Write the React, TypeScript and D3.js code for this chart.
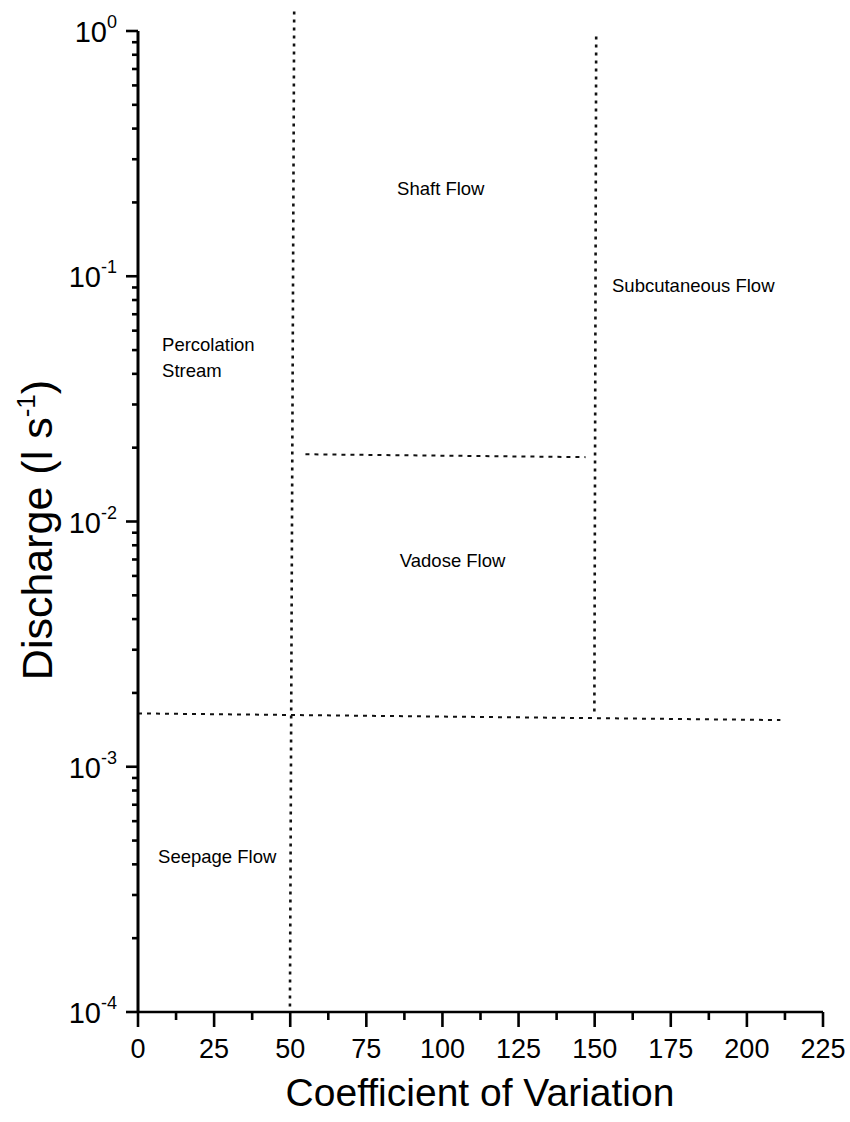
import React from "react";
import * as d3 from "d3";

const W = 850;
const H = 1122;

// Axis definitions
const xDomain = [0, 225];
const yDomain = [1e-4, 1];
const xMajorTicks = [0, 25, 50, 75, 100, 125, 150, 175, 200, 225];
const yDecades = [-4, -3, -2, -1, 0];

// Boundary lines (coefficient of variation, discharge l/s)
const verticalBoundaries = [
  { cvTop: 51.3, qTop: 1.2, cvBottom: 49.9, qBottom: 1e-4 },
  { cvTop: 150.5, qTop: 0.95, cvBottom: 149.9, qBottom: 1.63e-3 },
];
const horizontalBoundaries = [
  { cvStart: 0, qStart: 1.65e-3, cvEnd: 211, qEnd: 1.55e-3 },
  { cvStart: 55, qStart: 0.0188, cvEnd: 147, qEnd: 0.0183 },
];

// Region labels
const regionLabels = [
  { lines: ["Shaft Flow"], cv: 85.1, q: 0.214 },
  { lines: ["Subcutaneous Flow"], cv: 155.7, q: 0.0863 },
  { lines: ["Percolation", "Stream"], cv: 7.9, q: 0.0496 },
  { lines: ["Vadose Flow"], cv: 86, q: 0.00652 },
  { lines: ["Seepage Flow"], cv: 6.6, q: 4.05e-4 },
];

const FONT = "'Liberation Sans', Arial, Helvetica, sans-serif";

export default function App() {
  const x = d3.scaleLinear().domain(xDomain).range([138, 823]);
  const y = d3.scaleLog().domain(yDomain).range([1012, 31]);

  const xMinor = d3.range(0, xMajorTicks.length - 1).map((i) => xMajorTicks[i] + 12.5);
  const yMinor: number[] = [];
  yDecades.slice(0, -1).forEach((e) => {
    for (let k = 2; k <= 9; k++) yMinor.push(k * Math.pow(10, e));
  });

  const x0 = x(xDomain[0]);
  const yB = y(yDomain[0]);

  return (
    <svg
      width={W}
      height={H}
      style={{ position: "absolute", left: 0, top: 0, background: "#fff" }}
      fontFamily={FONT}
    >
      <rect width={W} height={H} fill="#fff" />
      {/* boundary lines */}
      {verticalBoundaries.map((d, i) => (
        <line
          key={"v" + i}
          x1={x(d.cvTop)}
          y1={y(d.qTop)}
          x2={x(d.cvBottom)}
          y2={y(d.qBottom)}
          stroke="#111"
          strokeWidth={2.6}
          strokeDasharray="3,5"
        />
      ))}
      {horizontalBoundaries.map((d, i) => (
        <line
          key={"h" + i}
          x1={x(d.cvStart)}
          y1={y(d.qStart)}
          x2={x(d.cvEnd)}
          y2={y(d.qEnd)}
          stroke="#111"
          strokeWidth={2}
          strokeDasharray="4,5"
        />
      ))}

      {/* axes */}
      <line x1={x0} y1={y(yDomain[1])} x2={x0} y2={yB} stroke="#000" strokeWidth={3} />
      <line x1={x0} y1={yB} x2={x(xDomain[1])} y2={yB} stroke="#000" strokeWidth={2.6} />

      {/* x ticks */}
      {xMajorTicks.map((t) => (
        <g key={"xt" + t}>
          <line x1={x(t)} x2={x(t)} y1={yB} y2={yB + 15} stroke="#000" strokeWidth={2.6} />
          <text x={x(t)} y={yB + 46} textAnchor="middle" fontSize={27} fill="#000">
            {t}
          </text>
        </g>
      ))}
      {xMinor.map((t) => (
        <line key={"xm" + t} x1={x(t)} x2={x(t)} y1={yB} y2={yB + 8} stroke="#000" strokeWidth={2.6} />
      ))}

      {/* y ticks */}
      {yDecades.map((e) => {
        const v = Math.pow(10, e);
        return (
          <g key={"yt" + e}>
            <line x1={x0 - 12} x2={x0} y1={y(v)} y2={y(v)} stroke="#000" strokeWidth={2.6} />
            <text x={x0 - 21} y={y(v) + 11} textAnchor="end" fontSize={29} fill="#000">
              10
              <tspan dy={-14} fontSize={18}>
                {e}
              </tspan>
            </text>
          </g>
        );
      })}
      {yMinor.map((v) => (
        <line key={"ym" + v} x1={x0 - 6} x2={x0} y1={y(v)} y2={y(v)} stroke="#000" strokeWidth={2.6} />
      ))}

      {/* region labels */}
      {regionLabels.map((l, i) => (
        <text key={"l" + i} x={x(l.cv)} y={y(l.q)} fontSize={18.5} fill="#000">
          {l.lines.map((s, j) => (
            <tspan key={j} x={x(l.cv)} dy={j === 0 ? 0 : 26}>
              {s}
            </tspan>
          ))}
        </text>
      ))}

      {/* axis titles */}
      <text x={480} y={1106} textAnchor="middle" fontSize={39} fill="#000">
        Coefficient of Variation
      </text>
      <text
        transform={`translate(52, 530) rotate(-90)`}
        textAnchor="middle"
        fontSize={43}
        fill="#000"
      >
        Discharge (l s
        <tspan dy={-17} fontSize={26}>
          -1
        </tspan>
        <tspan dy={17}>)</tspan>
      </text>
    </svg>
  );
}
